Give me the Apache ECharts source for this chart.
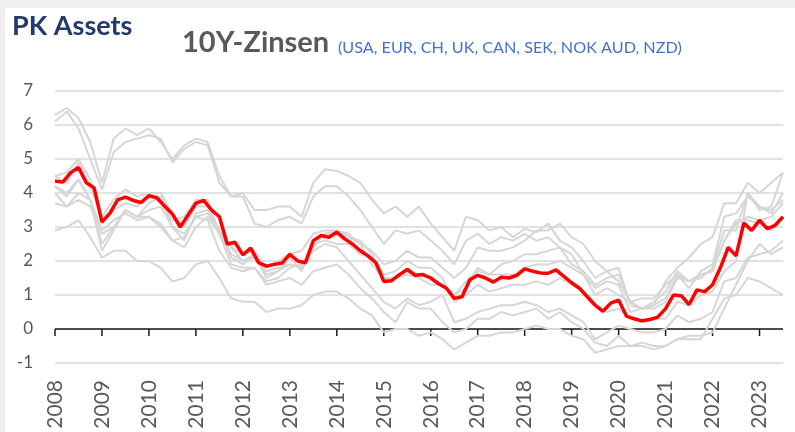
<!DOCTYPE html>
<html>
<head>
<meta charset="utf-8">
<script src="https://cdn.jsdelivr.net/npm/echarts@6/dist/echarts.min.js"></script>
<style>
  html, body { margin: 0; padding: 0; background: #fff; }
  #chart { width: 795px; height: 432px; }
</style>
</head>
<body>
<div id="chart"></div>
<script>
// x axis: years shown as tick labels
const yearTicks = [2008, 2009, 2010, 2011, 2012, 2013, 2014, 2015, 2016, 2017, 2018, 2019, 2020, 2021, 2022, 2023];
const yTicks = [-1, 0, 1, 2, 3, 4, 5, 6, 7];
const xEnd = 2023.5;

// average of the 9 countries, sampled every 2 months from Jan 2008
const avgValues = [
    4.35, 4.32, 4.6, 4.75, 4.3, 4.15,
    3.15, 3.4, 3.8, 3.88, 3.78, 3.72,
    3.92, 3.86, 3.62, 3.38, 3.0, 3.35,
    3.7, 3.78, 3.5, 3.3, 2.5, 2.55,
    2.18, 2.38, 1.95, 1.85, 1.9, 1.94,
    2.2, 2.0, 1.95, 2.6, 2.75, 2.7,
    2.85, 2.65, 2.5, 2.3, 2.15, 1.95,
    1.4, 1.42, 1.6, 1.75, 1.58, 1.6,
    1.5, 1.33, 1.2, 0.9, 0.95, 1.45,
    1.58, 1.5, 1.38, 1.52, 1.5, 1.58,
    1.77, 1.7, 1.65, 1.64, 1.74, 1.55,
    1.36, 1.2, 0.95, 0.7, 0.52, 0.76,
    0.85, 0.38, 0.3, 0.24, 0.28, 0.35,
    0.6, 1.0, 0.98, 0.72, 1.15, 1.1,
    1.3, 1.8, 2.4, 2.15, 3.12, 2.9,
    3.2, 2.95, 3.05, 3.3
];

// single countries, sampled quarterly from Jan 2008
const nzd = [6.3, 6.5, 6.2, 5.5, 4.3, 5.6, 5.9, 5.7, 5.9, 5.5, 5.0, 5.4, 5.6, 5.5, 4.5, 3.9,
    4.0, 3.5, 3.5, 3.6, 3.6, 3.3, 4.3, 4.7, 4.65, 4.5, 4.3, 3.8, 3.4, 3.6, 3.3, 3.6,
    3.1, 2.7, 2.3, 3.3, 3.2, 2.9, 3.0, 2.7, 2.95, 2.85, 3.1, 2.6, 2.4, 2.0, 1.5, 1.7,
    1.4, 0.8, 0.6, 0.7, 1.4, 1.8, 2.1, 2.5, 2.7, 3.7, 3.7, 4.3, 4.0, 4.3, 4.6];
const aud = [6.1, 6.4, 5.9, 5.0, 4.1, 5.2, 5.5, 5.6, 5.7, 5.6, 4.9, 5.3, 5.5, 5.4, 4.3, 3.9,
    3.9, 3.1, 3.0, 3.2, 3.3, 3.1, 3.9, 4.2, 4.2, 3.9, 3.5, 3.0, 2.5, 2.9, 2.8, 2.9,
    2.6, 2.3, 1.9, 2.6, 2.8, 2.5, 2.7, 2.6, 2.8, 2.6, 2.7, 2.4, 2.2, 1.6, 1.0, 1.2,
    1.0, 0.8, 0.9, 0.9, 1.3, 1.6, 1.2, 1.7, 1.9, 3.3, 3.4, 3.9, 3.6, 3.4, 4.0];
const usa = [3.7, 3.6, 4.0, 3.8, 2.3, 2.9, 3.5, 3.3, 3.7, 3.9, 3.0, 2.6, 3.4, 3.5, 2.9, 2.1,
    1.9, 2.2, 1.5, 1.7, 1.9, 1.8, 2.6, 2.7, 2.9, 2.7, 2.5, 2.3, 1.9, 2.0, 2.3, 2.1,
    2.1, 1.8, 1.5, 1.8, 2.4, 2.3, 2.3, 2.4, 2.6, 2.9, 2.9, 3.1, 2.7, 2.5, 2.0, 1.7,
    1.8, 0.7, 0.6, 0.8, 1.1, 1.7, 1.4, 1.5, 1.8, 2.9, 2.9, 4.0, 3.6, 3.5, 3.8];
const uk = [4.5, 4.6, 5.0, 4.4, 3.1, 3.5, 3.7, 3.6, 4.0, 4.0, 3.4, 3.0, 3.6, 3.6, 2.9, 2.4,
    2.0, 2.2, 1.6, 1.7, 2.1, 1.7, 2.4, 2.8, 2.9, 2.7, 2.6, 2.2, 1.6, 1.7, 2.0, 1.8,
    1.8, 1.5, 0.8, 1.0, 1.3, 1.1, 1.2, 1.3, 1.3, 1.4, 1.3, 1.5, 1.3, 1.1, 0.7, 0.5,
    0.6, 0.3, 0.2, 0.3, 0.3, 0.8, 0.7, 1.0, 1.1, 1.7, 2.0, 4.0, 3.5, 3.6, 4.6];
const can = [4.0, 3.6, 3.8, 3.6, 2.8, 3.0, 3.5, 3.3, 3.5, 3.6, 3.0, 2.8, 3.3, 3.4, 2.9, 2.2,
    2.0, 2.1, 1.7, 1.8, 1.9, 1.8, 2.5, 2.6, 2.5, 2.5, 2.2, 2.1, 1.4, 1.5, 1.6, 1.5,
    1.3, 1.3, 1.0, 1.2, 1.8, 1.6, 1.9, 2.0, 2.2, 2.2, 2.3, 2.4, 1.9, 1.7, 1.3, 1.5,
    1.6, 0.8, 0.6, 0.6, 0.8, 1.5, 1.4, 1.6, 1.7, 2.6, 3.2, 3.2, 3.1, 2.9, 3.3];
const sek = [4.2, 4.0, 4.4, 3.8, 2.5, 3.0, 3.5, 3.3, 3.3, 3.0, 2.6, 2.7, 3.3, 3.2, 2.3, 1.8,
    1.7, 1.8, 1.4, 1.5, 1.8, 1.9, 2.3, 2.5, 2.4, 2.0, 1.6, 1.2, 0.8, 0.6, 0.9, 0.7,
    0.8, 1.0, 0.2, 0.3, 0.5, 0.6, 0.7, 0.7, 0.8, 0.7, 0.5, 0.6, 0.4, 0.2, -0.3, -0.1,
    0.1, 0.0, -0.1, -0.1, 0.0, 0.4, 0.2, 0.3, 0.5, 1.4, 1.5, 2.1, 2.2, 2.3, 2.6];
const nok = [4.5, 4.3, 4.9, 4.2, 3.3, 3.8, 4.1, 3.9, 4.0, 3.7, 3.2, 3.3, 3.8, 3.8, 2.8, 2.4,
    2.2, 2.3, 1.8, 2.0, 2.2, 2.3, 2.8, 2.9, 2.9, 2.8, 2.5, 1.9, 1.5, 1.5, 1.7, 1.6,
    1.5, 1.3, 1.0, 1.4, 1.7, 1.6, 1.6, 1.6, 1.8, 1.9, 1.9, 2.0, 1.8, 1.6, 1.2, 1.4,
    1.3, 0.5, 0.6, 0.7, 0.9, 1.6, 1.4, 1.6, 1.7, 2.6, 3.1, 3.3, 3.2, 3.3, 3.7];
const eur = [4.2, 3.9, 4.4, 3.8, 2.9, 3.2, 3.4, 3.2, 3.3, 3.1, 2.6, 2.4, 3.0, 3.3, 2.8, 1.9,
    1.8, 1.8, 1.3, 1.4, 1.5, 1.3, 1.7, 1.8, 1.9, 1.6, 1.2, 0.9, 0.5, 0.2, 0.8, 0.6,
    0.6, 0.2, -0.1, 0.0, 0.3, 0.3, 0.5, 0.4, 0.5, 0.6, 0.3, 0.5, 0.2, 0.0, -0.4, -0.5,
    -0.2, -0.5, -0.4, -0.5, -0.5, -0.3, -0.2, -0.2, -0.1, 0.6, 1.3, 2.0, 2.5, 2.2, 2.4];
const ch = [2.9, 3.0, 3.2, 2.7, 2.1, 2.3, 2.3, 2.0, 2.0, 1.8, 1.4, 1.5, 1.9, 2.0, 1.5, 0.9,
    0.8, 0.8, 0.5, 0.6, 0.6, 0.7, 1.0, 1.1, 1.1, 0.9, 0.6, 0.4, -0.1, 0.0, 0.0, -0.2,
    -0.1, -0.3, -0.6, -0.4, -0.2, -0.2, -0.1, -0.1, 0.0, 0.1, 0.0, 0.0, -0.2, -0.3, -0.7, -0.6,
    -0.5, -0.5, -0.5, -0.6, -0.5, -0.3, -0.3, -0.3, 0.3, 0.9, 1.0, 1.5, 1.4, 1.2, 1.0];

const countries = [nzd, aud, usa, uk, can, sek, nok, eur, ch];

function toPairs(values, perYear) {
    return values.map((v, i) => [yearTicks[0] + i / perYear, v]);
}

const chart = echarts.init(document.getElementById('chart'));

const grayLines = countries.map(vals => ({
    type: 'line',
    data: toPairs(vals, 4),
    showSymbol: false,
    silent: true,
    lineStyle: { color: '#d6d6d6', width: 2 },
    z: 3
}));

const option = {
    backgroundColor: '#fff',
    animation: false,
    graphic: [
        { id: 'bandTop', type: 'rect', shape: { x: 0, y: 0, width: 795, height: 8 }, style: { fill: '#f0f0f0' } },
        { id: 'bandLeft', type: 'rect', shape: { x: 0, y: 0, width: 5, height: 432 }, style: { fill: '#f0f0f0' } },
        {
            id: 'brand', type: 'text', left: 12, top: 13,
            style: { text: 'PK Assets', font: 'bold 27px Lato', fill: '#24396b' }
        },
        {
            id: 'title', type: 'text', left: 182, top: 28,
            style: { text: '10Y-Zinsen', font: 'bold 29px Lato', fill: '#595959' }
        },
        {
            id: 'subtitle', type: 'text', left: 338, top: 40,
            style: { text: '(USA, EUR, CH, UK, CAN, SEK, NOK AUD, NZD)', font: '16.2px Lato', fill: '#4472c4' }
        }
    ],
    grid: { left: 55, right: 12, top: 91, bottom: 69 },
    xAxis: {
        type: 'value',
        min: yearTicks[0],
        max: xEnd,
        interval: 1,
        axisLine: { show: false },
        axisTick: { show: false },
        splitLine: { show: false },
        axisLabel: {
            rotate: 90,
            margin: 17,
            fontSize: 21,
            fontFamily: 'Lato',
            color: '#595959',
            formatter: v => (v % 1 === 0 ? String(v) : '')
        }
    },
    yAxis: {
        type: 'value',
        min: yTicks[0],
        max: yTicks[yTicks.length - 1],
        interval: 1,
        axisLine: { show: false },
        axisTick: { show: false },
        axisLabel: { margin: 22, fontSize: 17, fontFamily: 'Lato', color: '#595959' },
        splitLine: { lineStyle: { color: '#d9d9d9', width: 1.5 } }
    },
    series: grayLines.concat([{
        type: 'line',
        name: 'Durchschnitt',
        data: toPairs(avgValues, 6),
        showSymbol: false,
        lineStyle: { color: '#ff0000', width: 3.5 },
        z: 4
    }])
};

chart.setOption(option);

// zero line and year ticks: positions come from the chart's own scales
const toPx = pt => chart.convertToPixel({ xAxisIndex: 0, yAxisIndex: 0 }, pt);
const zStart = toPx([yearTicks[0], 0]);
const zEnd = toPx([xEnd, 0]);
const zeroGraphics = [{
    id: 'zeroLine',
    type: 'line',
    z: 2,
    shape: { x1: zStart[0], y1: zStart[1], x2: zEnd[0], y2: zEnd[1] },
    style: { stroke: '#1a1a1a', lineWidth: 1.5 }
}].concat(yearTicks.map(y => {
    const p = toPx([y, 0]);
    return {
        id: 'tick' + y,
        type: 'line',
        z: 2,
        shape: { x1: p[0], y1: p[1], x2: p[0], y2: p[1] + 7 },
        style: { stroke: '#1a1a1a', lineWidth: 1.5 }
    };
}));
chart.setOption({ graphic: zeroGraphics });
</script>
</body>
</html>
